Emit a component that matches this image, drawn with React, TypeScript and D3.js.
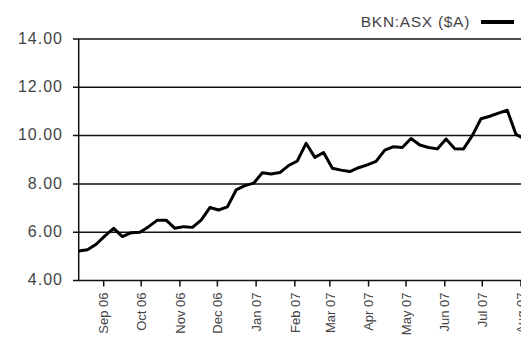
import React from "react";
import * as d3 from "d3";

const startDate = new Date(2006, 7, 12);
const values = [
  5.22, 5.27, 5.5, 5.85, 6.16, 5.82, 5.98, 6.0, 6.23, 6.5,
  6.5, 6.16, 6.23, 6.2, 6.5, 7.02, 6.92, 7.05, 7.75, 7.93,
  8.03, 8.46, 8.41, 8.47, 8.76, 8.95, 9.68, 9.1, 9.3, 8.65,
  8.57, 8.51, 8.67, 8.79, 8.93, 9.4, 9.54, 9.51, 9.88, 9.61,
  9.51, 9.45, 9.86, 9.46, 9.45, 10.0, 10.7, 10.8, 10.93, 11.05,
  10.05, 9.85,
];
const yTicks = [4, 6, 8, 10, 12, 14];
const monthTicks = [
  "2006-09-01", "2006-10-01", "2006-11-01", "2006-12-01", "2007-01-01", "2007-02-01",
  "2007-03-01", "2007-04-01", "2007-05-01", "2007-06-01", "2007-07-01", "2007-08-01",
];
const seriesName = "BKN:ASX ($A)";

const data = values.map((v, i) => ({ date: d3.timeDay.offset(startDate, i * 7), value: v }));

export default function App() {
  const W = 521, H = 338;
  const left = 78.7, right = 521, top = 39, bottom = 280.5;
  const x = d3.scaleTime().domain([startDate, new Date(2007, 7, 1)]).range([left, right]);
  const y = d3.scaleLinear().domain([4, 14]).range([bottom, top]);
  const line = d3.line<{ date: Date; value: number }>().x(d => x(d.date)).y(d => y(d.value)).curve(d3.curveLinear);
  const fmt = d3.timeFormat("%b %y");
  const ticks = monthTicks.map(s => d3.timeParse("%Y-%m-%d")(s) as Date);
  return (
    <svg width={W} height={H} style={{ position: "absolute", left: 0, top: 0, background: "#fff" }}
      fontFamily="'Liberation Sans', Arial, sans-serif">
      <defs>
        <clipPath id="plot"><rect x={left} y={0} width={right - left} height={bottom} /></clipPath>
      </defs>
      {yTicks.map(t => (
        <g key={t}>
          <line x1={73} x2={right} y1={y(t)} y2={y(t)} stroke="#111" strokeWidth={1.5} />
          <text x={63} y={y(t)} dy="0.3em" textAnchor="end" fontSize={16} letterSpacing={1} fill="#444">{t.toFixed(2)}</text>
        </g>
      ))}
      <line x1={left} x2={left} y1={top} y2={bottom} stroke="#111" strokeWidth={1.5} />
      {ticks.map((t, i) => (
        <g key={i} transform={`translate(${x(t)},${bottom})`}>
          <line y1={0} y2={6} stroke="#111" strokeWidth={1.5} />
          <text transform="rotate(-90)" x={-12} dy="0.36em" textAnchor="end" fontSize={13} fill="#444">{fmt(t)}</text>
        </g>
      ))}
      <path d={line(data) || ""} fill="none" stroke="#000" strokeWidth={3} strokeLinejoin="round" clipPath="url(#plot)" />
      <text x={470} y={22} dy="0.35em" textAnchor="end" fontSize={15.5} letterSpacing={0.7} fill="#444">{seriesName}</text>
      <line x1={481} x2={514} y1={22} y2={22} stroke="#000" strokeWidth={4} />
    </svg>
  );
}
